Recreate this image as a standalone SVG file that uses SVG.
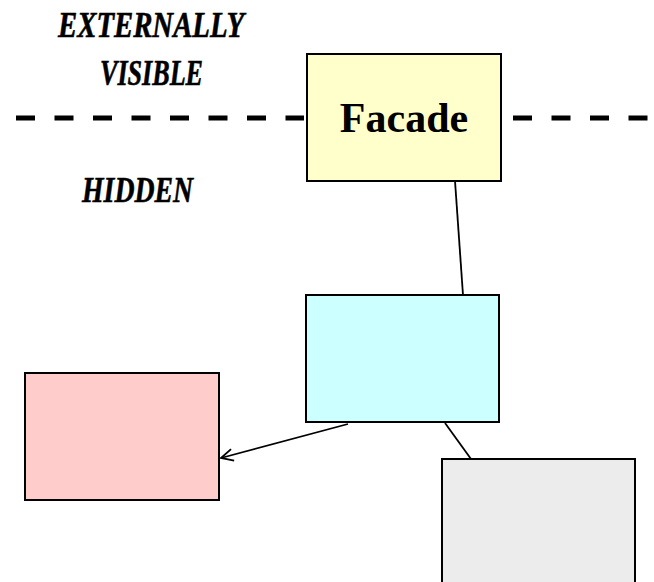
<svg xmlns="http://www.w3.org/2000/svg" width="654" height="582" viewBox="0 0 654 582">
<style>
.box{stroke:#000;stroke-width:2}
.lbl{font-family:"Liberation Serif",serif;font-weight:bold;font-style:italic;font-size:35px;fill:#000;stroke:#000;stroke-width:0.6}
.conn{stroke:#000;stroke-width:1.8;fill:none}
</style>
<defs>
<marker id="arr" markerWidth="16" markerHeight="16" refX="14" refY="8" orient="auto" markerUnits="userSpaceOnUse">
<path d="M2,2 L14,8 L2,14" fill="none" stroke="#000" stroke-width="1.8"/>
</marker>
</defs>
<rect width="654" height="582" fill="#fff"/>
<g id="divider">
<line x1="16" y1="118" x2="304" y2="118" stroke="#000" stroke-width="5" stroke-dasharray="19 19.5"/>
<line x1="513" y1="118" x2="654" y2="118" stroke="#000" stroke-width="5" stroke-dasharray="19 19.5"/>
</g>
<g id="labels">
<text class="lbl" x="58" y="37" textLength="186" lengthAdjust="spacingAndGlyphs">EXTERNALLY</text>
<text class="lbl" x="100" y="85" textLength="103" lengthAdjust="spacingAndGlyphs">VISIBLE</text>
<text class="lbl" x="82" y="202" textLength="111" lengthAdjust="spacingAndGlyphs">HIDDEN</text>
</g>
<g id="connectors">
<line class="conn" x1="455" y1="181" x2="463" y2="295"/>
<line class="conn" x1="348" y1="424" x2="221" y2="458" marker-end="url(#arr)"/>
<line class="conn" x1="445" y1="423" x2="471" y2="459"/>
</g>
<g id="facade">
<rect class="box" x="307" y="54" width="194" height="127" fill="#ffffcc"/>
<text x="404" y="132" text-anchor="middle" font-family="Liberation Serif,serif" font-weight="bold" font-size="42">Facade</text>
</g>
<g id="subsystem1">
<rect class="box" x="306" y="295" width="193" height="127" fill="#ccffff"/>
</g>
<g id="subsystem2">
<rect class="box" x="25" y="373" width="194" height="127" fill="#ffcccc"/>
</g>
<g id="subsystem3">
<rect class="box" x="442" y="459" width="193" height="135" fill="#ececec"/>
</g>
</svg>
